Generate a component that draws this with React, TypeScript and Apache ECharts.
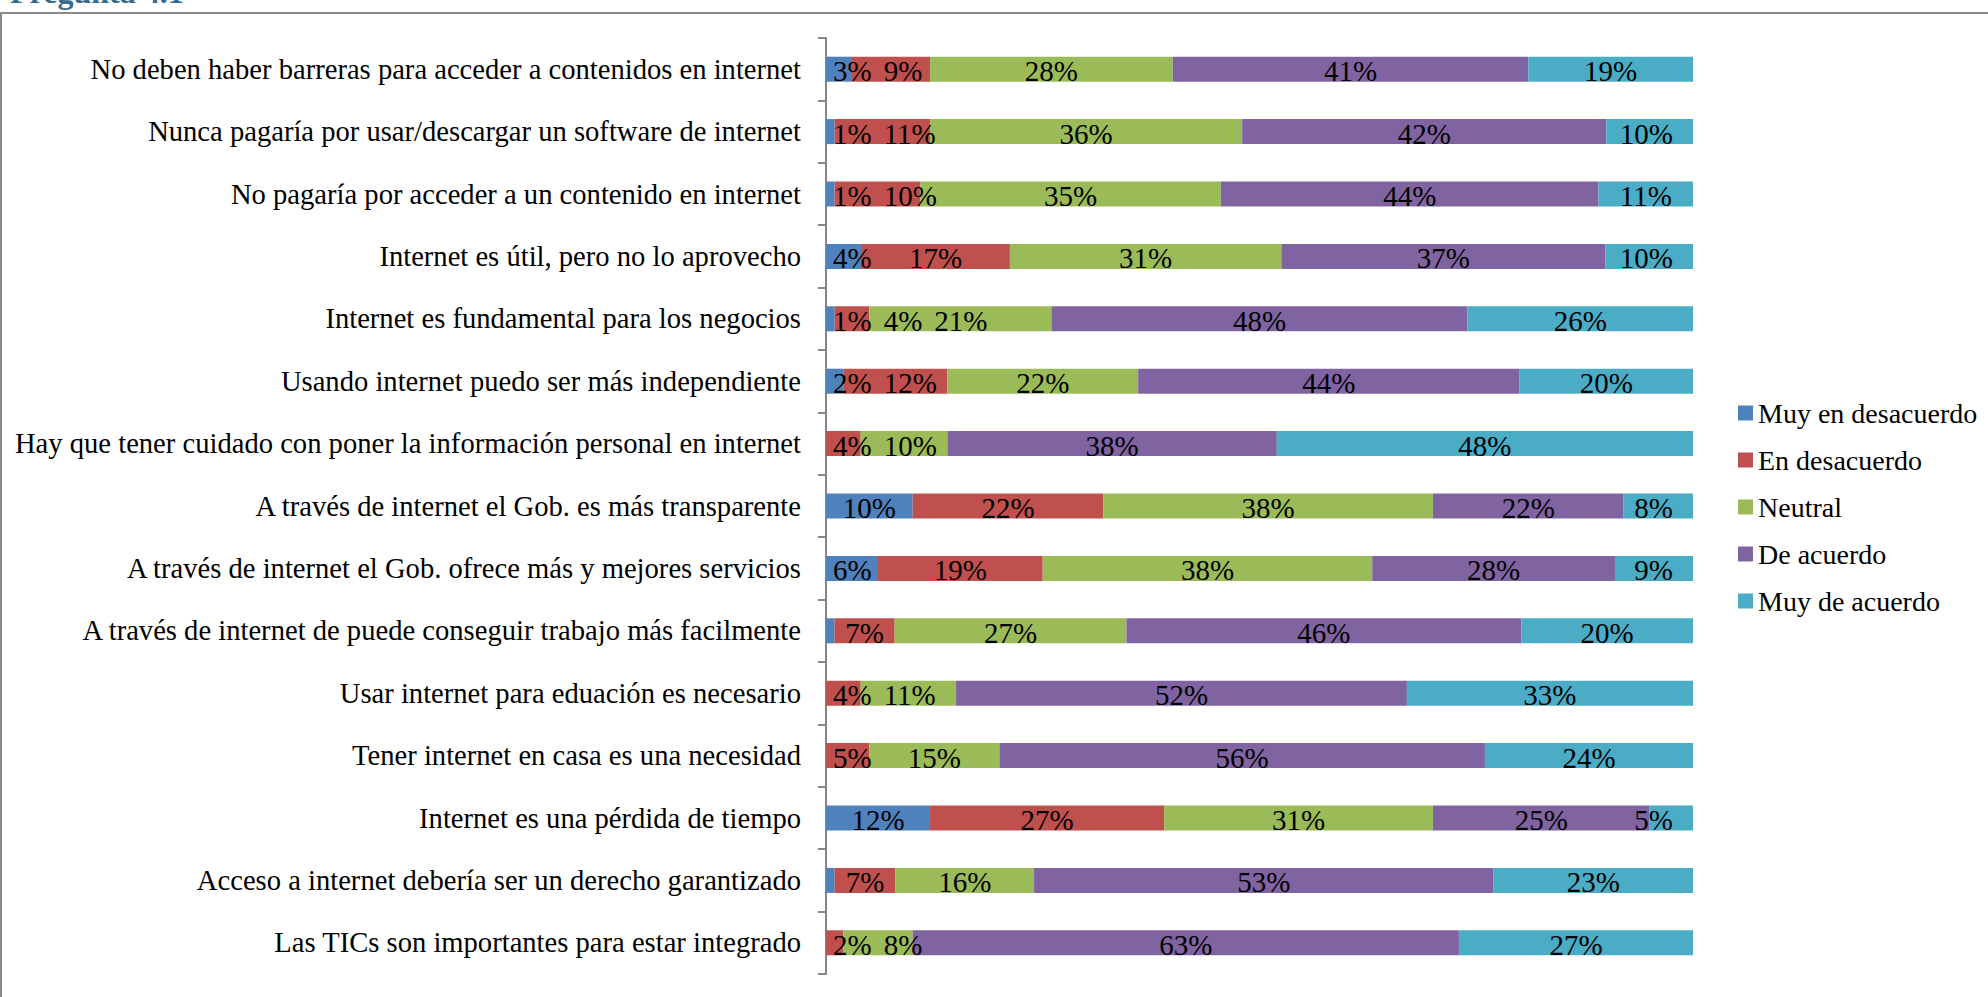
import React, { useEffect, useRef } from "react";
import * as echarts from "echarts";

const categories = [
  "No deben haber barreras para acceder a contenidos en internet",
  "Nunca pagaría por usar/descargar un software de internet",
  "No pagaría por acceder a un contenido en internet",
  "Internet es útil, pero no lo aprovecho",
  "Internet es fundamental para los negocios",
  "Usando internet puedo ser más independiente",
  "Hay que tener cuidado con poner la información personal en internet",
  "A través de internet el Gob. es más transparente",
  "A través de internet el Gob. ofrece más y mejores servicios",
  "A través de internet de puede conseguir trabajo más facilmente",
  "Usar internet para eduación es necesario",
  "Tener internet en casa es una necesidad",
  "Internet es una pérdida de tiempo",
  "Acceso a internet debería ser un derecho garantizado",
  "Las TICs son importantes para estar integrado",
];

const seriesNames = ["Muy en desacuerdo", "En desacuerdo", "Neutral", "De acuerdo", "Muy de acuerdo"];

const muyEnDesacuerdo = [3, 1, 1, 4, 1, 2, 0, 10, 6, 1, 0, 0, 12, 1, 0];
const enDesacuerdo = [9, 11, 10, 17, 4, 12, 4, 22, 19, 7, 4, 5, 27, 7, 2];
const neutral = [28, 36, 35, 31, 21, 22, 10, 38, 38, 27, 11, 15, 31, 16, 8];
const deAcuerdo = [41, 42, 44, 37, 48, 44, 38, 22, 28, 46, 52, 56, 25, 53, 63];
const muyDeAcuerdo = [19, 10, 11, 10, 26, 20, 48, 8, 9, 20, 33, 24, 5, 23, 27];

// labels that are not shown in the reference (series index, row index)
const hiddenLabels = [
  { series: 0, row: 9 },
  { series: 0, row: 13 },
];

const colors = ["#4F81BD", "#C0504D", "#9BBB59", "#8064A2", "#4BACC6"];

const FONT = '"Liberation Serif", "Times New Roman", serif';
const LABEL_SIZE = 29;

export default function App() {
  const ref = useRef<HTMLDivElement>(null);

  useEffect(() => {
    if (!ref.current) return;
    const chart = echarts.init(ref.current, null, { renderer: "svg" });

    const allSeries = [muyEnDesacuerdo, enDesacuerdo, neutral, deAcuerdo, muyDeAcuerdo];
    const rowSums = categories.map((_, d) => allSeries.reduce((a, s) => a + s[d], 0));
    const norm = allSeries.map((s) => s.map((v, d) => (v / rowSums[d]) * 100));
    const isHidden = (s: number, d: number) =>
      allSeries[s][d] <= 0 || hiddenLabels.some((h) => h.series === s && h.row === d);

    const canvas = document.createElement("canvas");
    const ctx = canvas.getContext("2d")!;
    ctx.font = `${LABEL_SIZE}px ${FONT}`;
    const textW = (t: string) => ctx.measureText(t).width;

    const labelLayout = (params: any) => {
      const s = params.seriesIndex;
      const d = params.dataIndex;
      if (isHidden(s, d)) return {};
      const rect = params.rect;
      const nv = norm[s][d];
      if (!(nv > 0) || !rect) return {};
      const k = rect.width / nv;
      let cumStart = 0;
      for (let i = 0; i < s; i++) cumStart += norm[i][d];
      const x0 = rect.x - cumStart * k;
      const x1 = x0 + 100 * k;
      const items: { s: number; c: number; w: number; left: number }[] = [];
      let cum = 0;
      for (let i = 0; i < allSeries.length; i++) {
        const v = norm[i][d];
        if (!isHidden(i, d)) {
          const w = textW(`${allSeries[i][d]}%`);
          items.push({ s: i, c: x0 + (cum + v / 2) * k, w, left: 0 });
        }
        cum += v;
      }
      const gap = 12;
      let minLeft = x0 + 7;
      for (const it of items) {
        it.left = Math.max(it.c - it.w / 2, minLeft);
        minLeft = it.left + it.w + gap;
      }
      let maxRight = x1 - 20;
      for (let i = items.length - 1; i >= 0; i--) {
        const it = items[i];
        if (it.left + it.w > maxRight) it.left = maxRight - it.w;
        maxRight = it.left - gap;
      }
      const me = items.find((it) => it.s === s);
      if (!me) return {};
      return {
        x: me.left + me.w / 2,
        y: rect.y + rect.height / 2 + 2,
        align: "center",
        verticalAlign: "middle",
      };
    };

    const series = allSeries.map((vals, s) => ({
      name: seriesNames[s],
      type: "bar",
      stack: "total",
      barWidth: 25,
      itemStyle: { color: colors[s] },
      label: {
        show: true,
        position: "inside",
        color: "#000",
        fontFamily: FONT,
        fontSize: LABEL_SIZE,
        formatter: (p: any) => `${p.data.raw}%`,
      },
      labelLayout,
      data: vals.map((v, d) => ({
        value: norm[s][d],
        raw: v,
        label: { show: !isHidden(s, d) },
      })),
    }));

    chart.setOption({
      animation: false,
      backgroundColor: "#fff",
      textStyle: { fontFamily: FONT },
      grid: { left: 826, right: 295, top: 38, bottom: 23, containLabel: false },
      xAxis: { type: "value", min: 0, max: 100, show: false },
      yAxis: {
        type: "category",
        inverse: true,
        data: categories,
        axisLine: { show: true, lineStyle: { color: "#868686", width: 2 } },
        axisTick: { show: true, length: 8, lineStyle: { color: "#868686", width: 2 } },
        axisLabel: { color: "#000", fontFamily: FONT, fontSize: 28.6, margin: 25 },
        splitLine: { show: false },
      },
      legend: {
        orient: "vertical",
        left: 1733,
        top: 393,
        itemWidth: 15,
        itemHeight: 15,
        itemGap: 17,
        icon: "rect",
        textStyle: { color: "#000", fontFamily: FONT, fontSize: 28, lineHeight: 30 },
        data: seriesNames,
      },
      graphic: [
        {
          type: "rect",
          silent: true,
          shape: { x: 1, y: 13, width: 2200, height: 1200 },
          style: { fill: "none", stroke: "#898989", lineWidth: 2 },
        },
        {
          type: "text",
          left: 10,
          top: -24,
          style: {
            text: "Pregunta 4.1",
            fill: "#376A8C",
            font: `bold 32px ${FONT}`,
          },
        },
      ],
      series,
    });

    return () => chart.dispose();
  }, []);

  return (
    <div
      ref={ref}
      style={{ position: "absolute", left: 0, top: 0, width: 1988, height: 997 }}
    />
  );
}
